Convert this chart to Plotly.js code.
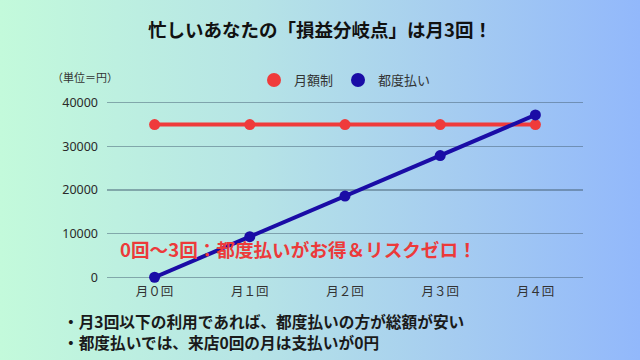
<!DOCTYPE html>
<html>
<head>
<meta charset="utf-8">
<script src="https://cdn.plot.ly/plotly-3.0.1.min.js"></script>
<style>
html,body{margin:0;padding:0;}
#chart{width:640px;height:360px;background:linear-gradient(to right,#c3fadb 0%,#b6e4e6 40%,#a6cdf0 70%,#92b8fb 100%);}
</style>
</head>
<body>
<div id="chart"></div>
<script>
const categories = ["月０回", "月１回", "月２回", "月３回", "月４回"];
const monthlyPlan = [35000, 35000, 35000, 35000, 35000];
const payPerVisit = [0, 9300, 18600, 27900, 37200];
const seriesNames = ["月額制", "都度払い"];
const yTicks = [0, 10000, 20000, 30000, 40000];
const titleText = "忙しいあなたの「損益分岐点」は月3回！";
const unitText = "（単位＝円）";
const noteText = "0回〜3回：都度払いがお得＆リスクゼロ！";
const bullets = ["・月3回以下の利用であれば、都度払いの方が総額が安い", "・都度払いでは、来店0回の月は支払いが0円"];

const RED = "#ef3b3b", BLUE = "#1a0ca6";
const JP = '"Noto Sans CJK JP", "Noto Sans", sans-serif';

// plot area in pixels: left 107, right 583, top 101, bottom 279
const PX = x => (x - 107) / 476;
const PY = y => (279 - y) / 178;

const traces = [
  {x: categories, y: monthlyPlan, mode: "lines+markers", name: seriesNames[0], showlegend: false,
   line: {color: RED, width: 4}, marker: {color: RED, size: 11}, cliponaxis: false},
  {x: categories, y: payPerVisit, mode: "lines+markers", name: seriesNames[1], showlegend: false,
   line: {color: BLUE, width: 4}, marker: {color: BLUE, size: 11}, cliponaxis: false},
  {x: [null], y: [null], mode: "markers", name: seriesNames[0], marker: {color: RED, size: 14}},
  {x: [null], y: [null], mode: "markers", name: seriesNames[1], marker: {color: BLUE, size: 14}}
];

const layout = {
  width: 640, height: 360,
  margin: {l: 107, r: 57, t: 101, b: 81},
  paper_bgcolor: "rgba(0,0,0,0)", plot_bgcolor: "rgba(0,0,0,0)",
  font: {family: JP, color: "#333"},
  title: {text: "<b>" + titleText + "</b>", x: 0.5, xanchor: "center", y: 1 - 31/360, yanchor: "middle",
          font: {size: 18.5, color: "#111", family: JP}},
  xaxis: {type: "category", categoryorder: "array", categoryarray: categories, range: [-0.5, 4.5],
          showgrid: false, zeroline: false, showline: false, ticks: "", ticklabelstandoff: 3,
          tickfont: {size: 12.5, color: "#333", family: JP}, fixedrange: true},
  yaxis: {range: [-400, 40400], tickvals: yTicks, ticktext: yTicks.map(String), showgrid: true,
          gridcolor: "rgba(70,95,115,0.5)", gridwidth: 1.4, zeroline: false, showline: false, ticks: "",
          ticklabelstandoff: 8, tickfont: {size: 12.5, color: "#2a2a2a", family: '"Noto Sans", sans-serif'}, fixedrange: true},
  showlegend: true,
  legend: {orientation: "h", x: PX(254), xanchor: "left", y: PY(80), yanchor: "middle",
           font: {size: 13, color: "#333", family: JP}, bgcolor: "rgba(0,0,0,0)", itemwidth: 30},
  annotations: [
    {xref: "paper", yref: "paper", x: PX(50), y: PY(77), xanchor: "left", yanchor: "middle",
     text: unitText, showarrow: false, font: {size: 11, color: "#333", family: JP}},
    {xref: "paper", yref: "paper", x: PX(298), y: PY(248), xanchor: "center", yanchor: "middle",
     text: "<b>" + noteText + "</b>", showarrow: false, font: {size: 18.6, color: "#ec3a3a", family: JP}},
    {xref: "paper", yref: "paper", x: PX(61), y: PY(321), xanchor: "left", yanchor: "middle",
     text: "<b>" + bullets[0] + "</b>", showarrow: false, font: {size: 15.7, color: "#1a1a1a", family: JP}},
    {xref: "paper", yref: "paper", x: PX(61), y: PY(342), xanchor: "left", yanchor: "middle",
     text: "<b>" + bullets[1] + "</b>", showarrow: false, font: {size: 15.7, color: "#1a1a1a", family: JP}}
  ]
};

Plotly.newPlot("chart", traces, layout, {displayModeBar: false, staticPlot: true});
</script>
</body>
</html>
